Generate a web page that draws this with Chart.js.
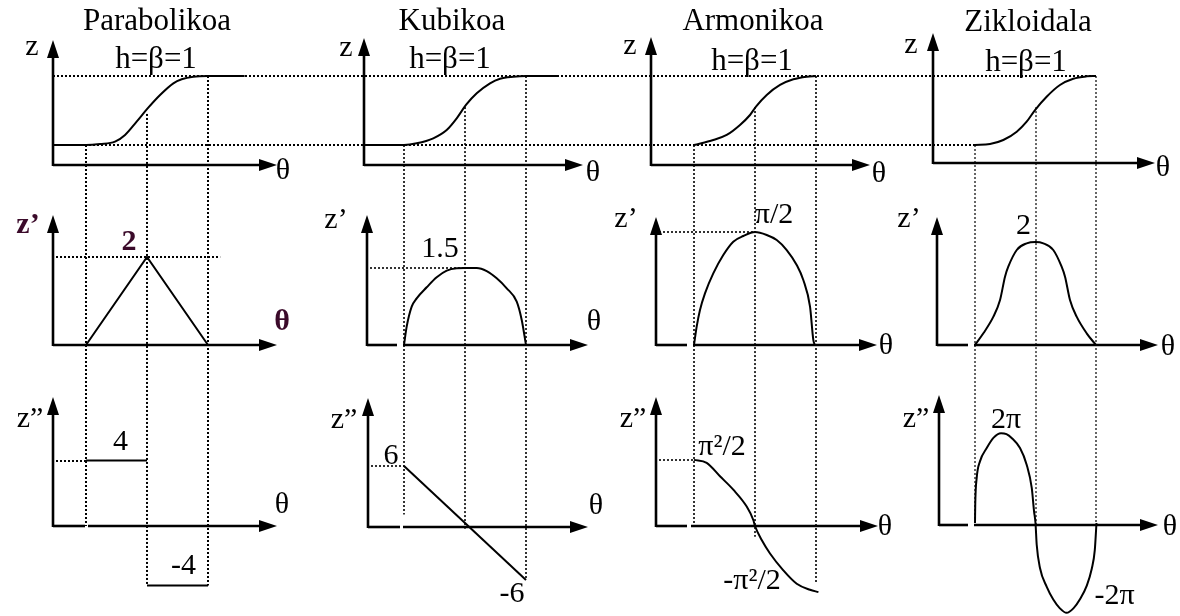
<!DOCTYPE html>
<html>
<head>
<meta charset="utf-8">
<title>Jarraipen legeak</title>
<script src="https://cdn.jsdelivr.net/npm/chart.js@4.4.0/dist/chart.umd.min.js"></script>
<style>
  html, body { margin: 0; padding: 0; background: #ffffff; }
  #lawsChart { display: block; }
</style>
</head>
<body>
<canvas id="lawsChart" width="1180" height="616"></canvas>
<script>
var W = 1180;
var H = 616;

// Parabolikoa
var parab_z_theta = [-0.27, 0, 0.115, 0.238, 0.32, 0.415, 0.505, 0.607, 0.716, 0.784, 0.88, 1, 1.3];
var parab_z = [0, 0, 0.014, 0.048, 0.145, 0.338, 0.53, 0.725, 0.894, 0.952, 0.99, 1, 1];
var parab_v_theta = [0, 0.5, 1];
var parab_v = [0, 2, 0];
var parab_a_theta = [0, 0.5, 0.5, 0.5, 1];
var parab_a = [4, 4, null, -4, -4];

// Kubikoa
var cubic_z_theta = [-0.33, 0, 0.104, 0.24, 0.35, 0.432, 0.508, 0.596, 0.705, 0.787, 0.896, 1, 1.27];
var cubic_z = [0, 0, 0.024, 0.097, 0.217, 0.386, 0.58, 0.749, 0.894, 0.961, 0.99, 1, 1];
var cubic_v_theta = [0, 0.022, 0.063, 0.104, 0.186, 0.268, 0.35, 0.432, 0.5, 0.596, 0.678, 0.76, 0.842, 0.924, 0.965, 1];
var cubic_v = [0, 0.357, 0.747, 0.91, 1.125, 1.32, 1.45, 1.495, 1.5, 1.5, 1.44, 1.3, 1.105, 0.845, 0.487, 0];
var cubic_a_theta = [0, 1];
var cubic_a = [6, -6];

// Armonikoa
var harm_z_theta = [0, 0.158, 0.268, 0.377, 0.459, 0.508, 0.596, 0.705, 0.814, 0.924, 1];
var harm_z = [0, 0.072, 0.145, 0.29, 0.435, 0.556, 0.725, 0.87, 0.952, 0.99, 1];
var harm_v_theta = [0, 0.022, 0.049, 0.09, 0.158, 0.24, 0.322, 0.404, 0.5, 0.596, 0.678, 0.76, 0.842, 0.896, 0.951, 0.978, 0.99];
var harm_v = [0, 0.255, 0.487, 0.719, 0.997, 1.252, 1.437, 1.516, 1.571, 1.53, 1.46, 1.321, 1.113, 0.904, 0.533, 0.07, 0];
var harm_a_theta = [0, 0.104, 0.213, 0.322, 0.432, 0.486, 0.5, 0.555, 0.623, 0.732, 0.842, 0.951, 1.02];
var harm_a = [4.935, 4.71, 3.71, 2.71, 1.45, 0.45, 0, -1.05, -2.05, -3.31, -4.31, -4.76, -4.935];

// Zikloidala
var cyc_z_theta = [0, 0.124, 0.234, 0.345, 0.427, 0.496, 0.592, 0.702, 0.812, 0.923, 1];
var cyc_z = [0, 0.014, 0.072, 0.193, 0.338, 0.507, 0.7, 0.87, 0.961, 0.995, 1];
var cyc_v_theta = [0, 0.069, 0.152, 0.207, 0.248, 0.275, 0.345, 0.427, 0.5, 0.565, 0.647, 0.716, 0.744, 0.785, 0.84, 0.923, 1];
var cyc_v = [0, 0.227, 0.55, 0.874, 1.327, 1.52, 1.845, 1.974, 2, 1.974, 1.845, 1.52, 1.327, 0.874, 0.55, 0.227, 0];
var cyc_a_theta = [0, 0.002, 0.014, 0.041, 0.097, 0.152, 0.215, 0.26, 0.303, 0.372, 0.427, 0.469, 0.488, 0.5,
                   0.51, 0.537, 0.592, 0.647, 0.7, 0.757, 0.815, 0.87, 0.923, 0.965, 0.99, 1.004];
var cyc_a = [0, 1.28, 3.15, 4.31, 5.24, 5.95, 6.283, 6.22, 5.95, 5.24, 4.08, 2.45, 0.82, 0,
             -1.52, -3.15, -4.45, -5.35, -5.95, -6.283, -5.95, -5.3, -4.4, -3.2, -1.9, 0];

var col_titles = ['Parabolikoa', 'Kubikoa', 'Armonikoa', 'Zikloidala'];
var sub_title = 'h=β=1';
var row_axis_names = ['z', 'z’', 'z”'];
var theta_name = 'θ';

var value_labels = ['2', '1.5', 'π/2', '2', '4', '-4', '6', '-6', 'π²/2', '-π²/2', '2π', '-2π'];
var value_label_vals = [2, 1.5, 1.571, 2, 4, -4, 6, -6, 4.935, -4.935, 6.283, -6.283];
var value_label_theta = [0.5, 0.5, 0.5, 0.5, 0.25, 0.75, 0, 1, 0, 0.5, 0.215, 0.757];
var value_label_panel = [[1, 0], [1, 1], [1, 2], [1, 3], [2, 0], [2, 0], [2, 1], [2, 1], [2, 2], [2, 2], [2, 3], [2, 3]];

var law_series = [
    [[parab_z_theta, parab_z], [parab_v_theta, parab_v], [parab_a_theta, parab_a]],
    [[cubic_z_theta, cubic_z], [cubic_v_theta, cubic_v], [cubic_a_theta, cubic_a]],
    [[harm_z_theta, harm_z], [harm_v_theta, harm_v], [harm_a_theta, harm_a]],
    [[cyc_z_theta, cyc_z], [cyc_v_theta, cyc_v], [cyc_a_theta, cyc_a]]
];
// 'm' = monotone spline, a number = bezier tension (0 = straight pieces)
var law_smooth = [
    ['m', 0, 0],
    ['m', 'm', 0],
    ['m', 'm', 'm'],
    ['m', 'm', 'm']
];

// ---- layout ----
var FONT = '"Liberation Serif", "Times New Roman", serif';
var MAROON = '#3b0a2a';
var col_title_x = [157, 452, 753, 1028];
var col_title_y = [30, 30, 30, 31];
var col_sub_x = [156, 450, 752, 1026];
var col_sub_y = [68, 68, 70, 71];
// pixel of theta = 0 and pixels per unit theta
var col_theta0 = [86, 404, 694, 975];
var col_theta_px = [122, 122, 122, 121];
// pixel of value 0 and pixels per unit, by row then column
var row_zero = [[145, 145, 145, 145], [345, 345, 345, 345], [523, 523, 526, 523]];
var row_unit = [[69, 69, 69, 69], [44, 51.3, 71.9, 51.5], [15.6, 9.5, 13.4, 14.3]];
// [vertical axis x, horizontal axis y, arrow top, arrow right, gap in theta axis (offsets from theta=0) or null]
var panel_axes = [
    [[53, 165, 40, 277, null], [364, 165, 38, 583, null], [651, 165, 37, 870, null], [933, 163, 33, 1155, null]],
    [[53, 345, 215, 277, null], [367, 345, 215, 588, [-7, -1]], [656, 345, 217, 877, [-7, -1]], [937, 345, 217, 1158, [-7, -1]]],
    [[53, 526, 397, 277, [-1, 2]], [368, 527, 398, 588, [-4, -1]], [656, 526, 397, 878, [-7, -3]], [939, 525, 395, 1158, [-7, -1]]]
];
var axis_name_pos = [
    [[32, 55], [346, 56], [630, 54], [911, 53]],
    [[28, 233], [336, 228], [626, 227], [909, 227]],
    [[30, 427], [344, 428], [633, 427], [916, 427]]
];
var theta_pos = [
    [[283, 171], [593, 173], [879, 174], [1163, 168]],
    [[282, 322], [594, 322], [886, 346], [1168, 347]],
    [[282, 505], [596, 506], [885, 527], [1170, 527]]
];
var value_label_shift = [[-18, -15], [-25, -19], [19, -17], [-12, -16], [4, -18], [6, -19],
                         [-13, -10], [-14, 14], [28, -13], [-3, -11], [5, -13], [48, -17]];
// vertical guides per column: [theta, value in top row, value in bottom row or 'axis']
var v_guides = [
    [[0, 0, 'axis'], [0.5, 0.45, -4], [1, 1, -4]],
    [[0, 0, 0.9], [0.5, 0.55, -0.6], [1, 1, -6]],
    [[0, 0, 0.2], [0.5, 0.55, -0.8], [1, 1, -4.2]],
    [[0, 0, 0.3], [0.5, 0.55, 'axis'], [1, 1, 'axis']]
];
var v_guide_width = [2, 1.6, 1.6, 1.2];
// horizontal guides: [row, col, value, theta end]  (they start at the panel's vertical axis)
var h_guides = [
    [1, 0, 2, 1.1],
    [1, 1, 1.5, 0.5],
    [1, 2, 1.571, 0.5],
    [2, 0, 4, 0],
    [2, 1, 6, 0],
    [2, 2, 4.935, 0]
];

function build_scales() {
    var scales = {};
    for (var c = 0; c < 4; c++) {
        scales['x' + c] = {
            type: 'linear', axis: 'x', display: false, bounds: 'data',
            min: -col_theta0[c] / col_theta_px[c],
            max: (W - col_theta0[c]) / col_theta_px[c]
        };
        for (var r = 0; r < 3; r++) {
            scales['y' + r + c] = {
                type: 'linear', axis: 'y', display: false, bounds: 'data',
                min: -(H - row_zero[r][c]) / row_unit[r][c],
                max: row_zero[r][c] / row_unit[r][c]
            };
        }
    }
    return scales;
}

function build_datasets() {
    var datasets = [];
    for (var c = 0; c < 4; c++) {
        for (var r = 0; r < 3; r++) {
            var s = law_series[c][r];
            var pts = [];
            for (var i = 0; i < s[0].length; i++) {
                pts.push({x: s[0][i], y: s[1][i]});
            }
            var ds = {
                label: col_titles[c] + ' ' + row_axis_names[r],
                data: pts,
                xAxisID: 'x' + c,
                yAxisID: 'y' + r + c,
                borderColor: '#000000',
                borderWidth: 2,
                pointRadius: 0,
                fill: false,
                tension: 0
            };
            if (law_smooth[c][r] === 'm') {
                ds.cubicInterpolationMode = 'monotone';
            } else {
                ds.tension = law_smooth[c][r];
            }
            datasets.push(ds);
        }
    }
    return datasets;
}

function line(ctx, x1, y1, x2, y2, w) {
    ctx.lineWidth = w;
    ctx.beginPath();
    ctx.moveTo(x1, y1);
    ctx.lineTo(x2, y2);
    ctx.stroke();
}

function put_text(ctx, str, x, y, size, bold, color, baseline) {
    ctx.font = (bold ? 'bold ' : '') + size + 'px ' + FONT;
    ctx.fillStyle = color || '#000000';
    ctx.textAlign = 'center';
    ctx.textBaseline = baseline || 'middle';
    ctx.fillText(str, x, y);
}

function draw_axes(ctx, chart) {
    ctx.strokeStyle = '#000000';
    ctx.fillStyle = '#000000';
    ctx.setLineDash([]);
    for (var r = 0; r < 3; r++) {
        for (var c = 0; c < 4; c++) {
            var a = panel_axes[r][c];
            var ax = a[0], ay = a[1], top = a[2], right = a[3], gap = a[4];
            line(ctx, ax, top + 14, ax, ay + 1, 2.6);
            var t0 = Math.round(chart.scales['x' + c].getPixelForValue(0));
            if (gap) {
                line(ctx, ax, ay, t0 + gap[0], ay, 2.6);
                line(ctx, t0 + gap[1], ay, right - 14, ay, 2.6);
            } else {
                line(ctx, ax, ay, right - 14, ay, 2.6);
            }
            ctx.beginPath();
            ctx.moveTo(ax, top);
            ctx.lineTo(ax - 6, top + 18);
            ctx.lineTo(ax + 6, top + 18);
            ctx.closePath();
            ctx.fill();
            ctx.beginPath();
            ctx.moveTo(right, ay);
            ctx.lineTo(right - 18, ay - 6);
            ctx.lineTo(right - 18, ay + 6);
            ctx.closePath();
            ctx.fill();
        }
    }
}

function draw_guides(ctx, chart) {
    ctx.strokeStyle = '#000000';
    ctx.setLineDash([2, 2]);
    var sc = chart.scales;
    var left = panel_axes[0][0][0];
    var y1 = Math.round(sc.y00.getPixelForValue(1));
    var y0 = Math.round(sc.y00.getPixelForValue(0));
    line(ctx, left, y1, sc.x3.getPixelForValue(1), y1, 2);
    line(ctx, left, y0, sc.x3.getPixelForValue(0), y0, 2);

    for (var i = 0; i < h_guides.length; i++) {
        var g = h_guides[i];
        var yy = Math.round(sc['y' + g[0] + g[1]].getPixelForValue(g[2]));
        var w = g[1] == 0 ? 2 : 1.6;
        line(ctx, panel_axes[g[0]][g[1]][0] + 3, yy, sc['x' + g[1]].getPixelForValue(g[3]), yy, w);
    }

    for (var c = 0; c < 4; c++) {
        for (var k = 0; k < v_guides[c].length; k++) {
            var v = v_guides[c][k];
            var xx = Math.round(sc['x' + c].getPixelForValue(v[0]));
            var ytop = sc['y0' + c].getPixelForValue(v[1]);
            var ybot = v[2] === 'axis' ? panel_axes[2][c][1] : sc['y2' + c].getPixelForValue(v[2]);
            line(ctx, xx, ytop, xx, ybot, v_guide_width[c]);
        }
    }
    ctx.setLineDash([]);
}

function draw_labels(ctx, chart) {
    var sc = chart.scales;
    for (var c = 0; c < 4; c++) {
        put_text(ctx, col_titles[c], col_title_x[c], col_title_y[c], 31, false, null, 'alphabetic');
        put_text(ctx, sub_title, col_sub_x[c], col_sub_y[c], 31, false, null, 'alphabetic');
        for (var r = 0; r < 3; r++) {
            var special = (r == 1 && c == 0);
            var np = axis_name_pos[r][c];
            put_text(ctx, row_axis_names[r], np[0], np[1], 30, special, special ? MAROON : null, 'alphabetic');
            var tp = theta_pos[r][c];
            put_text(ctx, theta_name, tp[0], tp[1], 30, special, special ? MAROON : null, 'middle');
        }
    }
    for (var i = 0; i < value_labels.length; i++) {
        var p = value_label_panel[i];
        var x = sc['x' + p[1]].getPixelForValue(value_label_theta[i]) + value_label_shift[i][0];
        var y = sc['y' + p[0] + p[1]].getPixelForValue(value_label_vals[i]) + value_label_shift[i][1];
        var special = (p[0] == 1 && p[1] == 0);
        put_text(ctx, value_labels[i], x, y, 30, special, special ? MAROON : null, 'middle');
    }
}

var frame_plugin = {
    id: 'lawFrame',
    beforeDatasetsDraw: function(chart) {
        var ctx = chart.ctx;
        ctx.save();
        draw_guides(ctx, chart);
        draw_axes(ctx, chart);
        ctx.restore();
    },
    afterDatasetsDraw: function(chart) {
        var ctx = chart.ctx;
        ctx.save();
        draw_labels(ctx, chart);
        ctx.restore();
    }
};

var ctx = document.getElementById('lawsChart').getContext('2d');
window.laws_chart = new Chart(ctx, {
    type: 'line',
    data: {datasets: build_datasets()},
    options: {
        responsive: false,
        animation: false,
        devicePixelRatio: 1,
        layout: {padding: 0},
        plugins: {
            legend: {display: false},
            tooltip: {enabled: false}
        },
        scales: build_scales()
    },
    plugins: [frame_plugin]
});
</script>
</body>
</html>
